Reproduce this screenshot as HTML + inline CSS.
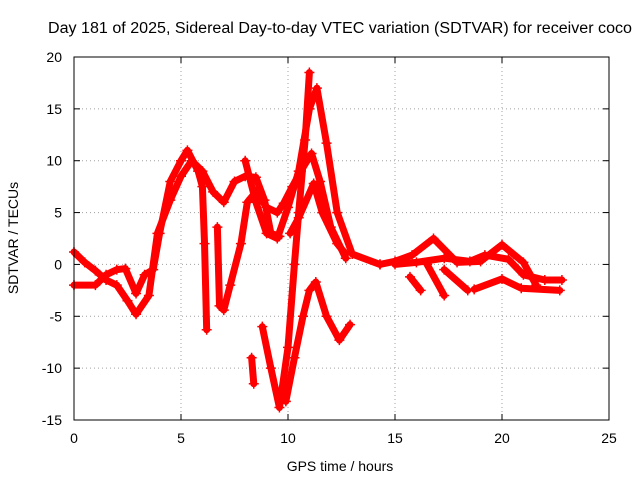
<!DOCTYPE html>
<html><head><meta charset="utf-8"><style>
body{margin:0;background:#fff}
svg{display:block;font-family:"Liberation Sans",sans-serif}
</style></head><body>
<svg id="chart" width="640" height="480" viewBox="0 0 640 480">
<rect width="640" height="480" fill="#fff"/>
<text x="340" y="33" font-size="15.5" text-anchor="middle" textLength="584" lengthAdjust="spacingAndGlyphs">Day 181 of 2025, Sidereal Day-to-day VTEC variation (SDTVAR) for receiver coco</text>
<text x="340" y="471" font-size="14" text-anchor="middle">GPS time / hours</text>
<text transform="translate(18,238) rotate(-90)" font-size="14" text-anchor="middle">SDTVAR / TECUs</text>
<g id="grid"></g>
<g id="series"></g>
<rect x="74" y="57" width="535" height="363" fill="none" stroke="#000" stroke-width="1"/>
</svg>
<script>
const xTicks=[0,5,10,15,20,25];
const yTicks=[-15,-10,-5,0,5,10,15,20];
const track1=[[0,1.2],[0.5,0.2],[1,-0.6],[1.5,-1.5],[2,-2],[2.5,-3.5],[2.9,-4.8],[3.5,-3],[3.9,3],[4.5,6.2],[5,8.5],[5.5,10],[6,9],[6.5,7],[7,6],[7.5,8],[8,8.5],[8.5,8.4],[8.9,6.2],[9.2,3],[9.6,2.7]];
const track2=[[0,-2],[1,-2],[1.5,-1],[2,-0.5],[2.4,-0.4],[2.9,-2.8],[3.3,-1],[3.7,-0.5],[4,3],[4.5,8],[5,10],[5.3,11],[5.8,9],[6,7.5],[6.1,2],[6.2,-6.3]];
const track3=[[6.7,3.6],[6.8,-4],[7,-4.4],[7.3,-2],[7.8,2],[8.1,6],[8.5,7],[9,5.5],[9.5,5],[9.8,5.9],[10.2,7.5],[10.6,9],[11.1,10.7],[11.5,8],[12,3.6],[12.7,0.6]];
const track4=[[8,10],[8.5,6],[9,3],[9.5,2.5],[10,5.5],[10.5,9],[11,15],[11.35,17],[11.8,11.7],[12.3,5],[13,1],[14.3,0]];
const track5=[[8.3,-9],[8.4,-11.5]];
const track6=[[8.8,-6],[9.2,-10],[9.6,-13.8],[10,-8],[10.3,0],[10.5,5],[10.8,12],[11,18.5]];
const track7=[[9.9,-13.2],[10.3,-9],[10.7,-5],[11,-2.5],[11.3,-1.7],[11.8,-5],[12.4,-7.3],[12.9,-5.8]];
const track8=[[10.1,3],[10.5,4.5],[11.2,7.8],[11.6,5],[12.3,2],[12.7,1]];
const track9=[[14.3,0],[15,0.3],[15.8,0.9],[16.8,2.5],[17.9,0.2],[19,0.3],[20,1.9],[21,0.2],[21.6,-2]];
const track10=[[15,0],[16,0.2],[17.3,0.6],[18.5,0.3],[19.2,0.9],[20.3,0.5],[21,-1],[22,-1.5],[22.8,-1.5]];
const track11=[[15.7,-1.2],[16.2,-2.5]];
const track12=[[16.5,0],[17.3,-3]];
const track13=[[17.3,-0.5],[18.4,-2.5]];
const track14=[[18.7,-2.4],[20,-1.4],[20.9,-2.3],[22.7,-2.5]];
const tracks=[track1,track2,track3,track4,track5,track6,track7,track8,track9,track10,track11,track12,track13,track14];
const NS="http://www.w3.org/2000/svg";
const X0=74,X1=609,Y0=420,Y1=57;
const sx=v=>X0+(v-0)/(25-0)*(X1-X0);
const sy=v=>Y0-(v+15)/(35)*(Y0-Y1);
const grid=document.getElementById('grid');
function mk(tag,attrs,parent){const e=document.createElementNS(NS,tag);for(const k in attrs)e.setAttribute(k,attrs[k]);parent.appendChild(e);return e;}
xTicks.forEach(t=>{
  const x=sx(t);
  const l=mk('line',{x1:x,x2:x,y1:Y0,y2:Y1,stroke:'#a0a0a0','stroke-dasharray':'1,3'},grid);
  
  
  mk('line',{x1:x,x2:x,y1:Y0,y2:Y0-6,stroke:'#000'},grid);
  mk('line',{x1:x,x2:x,y1:Y1,y2:Y1+6,stroke:'#000'},grid);
  const tx=mk('text',{x:x,y:Y0+23,'font-size':14,'text-anchor':'middle'},grid);
  tx.textContent=t;
  
  
});
yTicks.forEach(t=>{
  const y=sy(t);
  const l=mk('line',{x1:X0,x2:X1,y1:y,y2:y,stroke:'#a0a0a0','stroke-dasharray':'1,3'},grid);
  
  
  mk('line',{x1:X0,x2:X0+6,y1:y,y2:y,stroke:'#000'},grid);
  mk('line',{x1:X1,x2:X1-6,y1:y,y2:y,stroke:'#000'},grid);
  const tx=mk('text',{x:X0-12,y:y+5,'font-size':14,'text-anchor':'end'},grid);
  tx.textContent=t;
  
  
});
const sg=document.getElementById('series');
tracks.forEach((tr,i)=>{
  const pts=tr.map(p=>sx(p[0])+','+sy(p[1])).join(' ');
  const pl=mk('polyline',{points:pts,fill:'none',stroke:'#ff0000','stroke-width':7,'stroke-linejoin':'round','stroke-linecap':'round'},sg);
  
  
  tr.forEach(p=>{
    const x=sx(p[0]),y=sy(p[1]);
    const m=mk('path',{d:`M${x-5},${y}H${x+5}M${x},${y-5}V${y+5}`,stroke:'#ff0000','stroke-width':1.5},sg);
    
    
  });
});
</script>
</body></html>
